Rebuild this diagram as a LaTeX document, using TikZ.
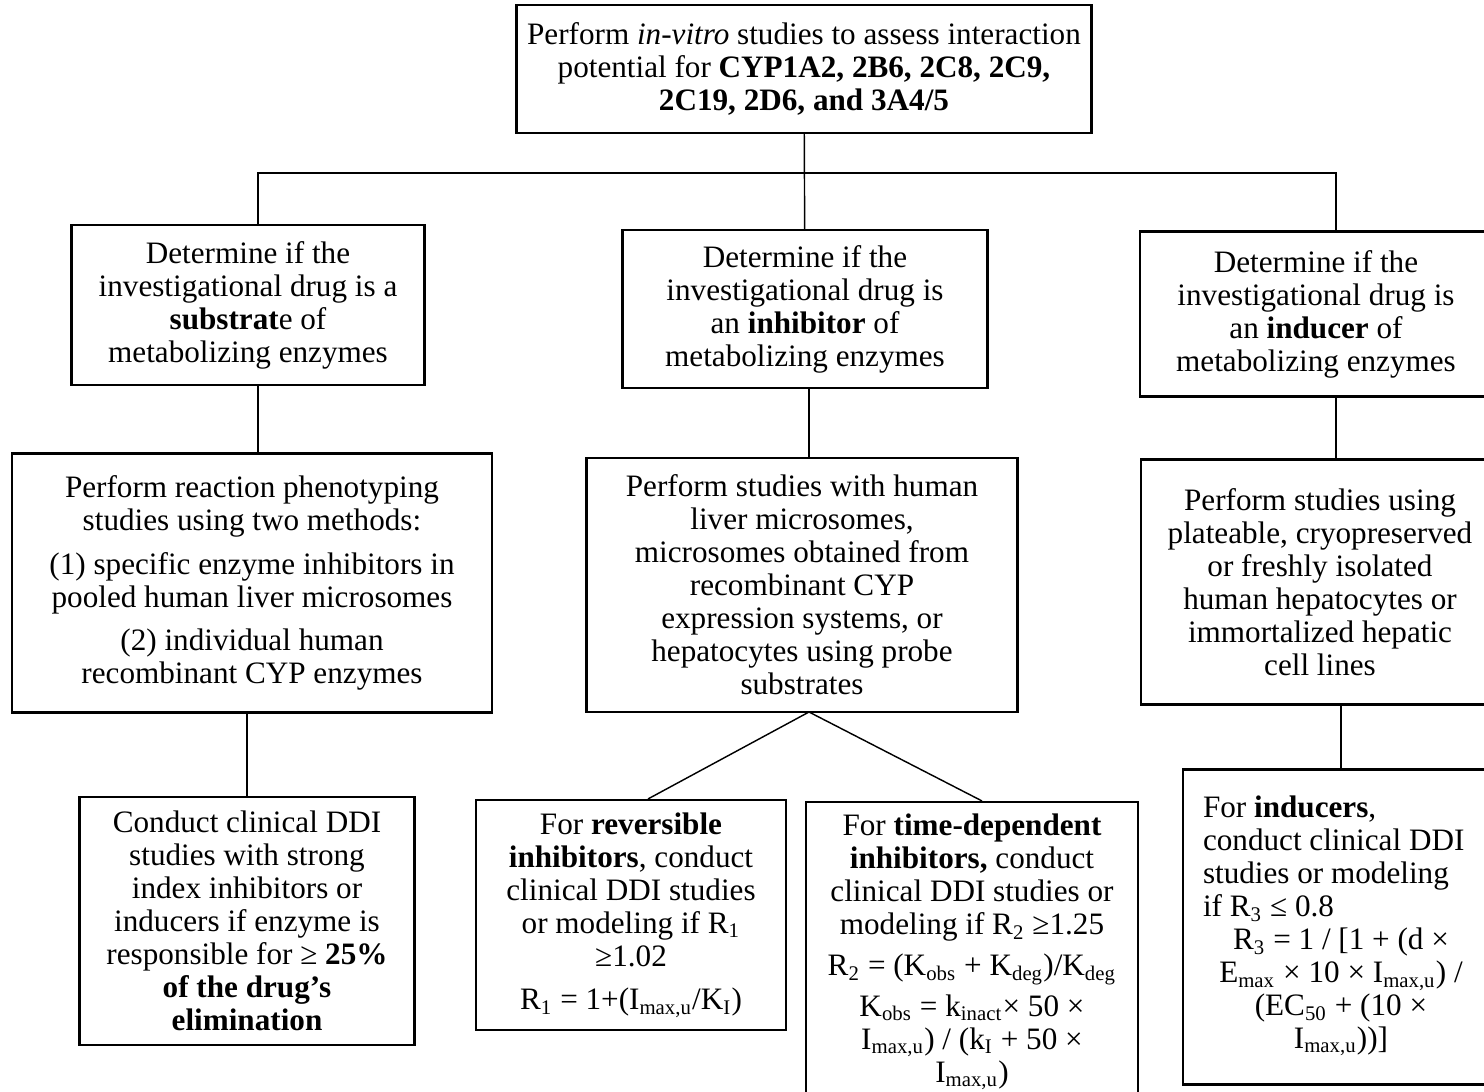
\documentclass[tikz,border=0pt]{standalone}
\usepackage{fontspec}
\setmainfont{Liberation Serif}
\newdimen\px \px=0.385pt

\begin{document}
\begin{tikzpicture}[x=0.385pt,y=-0.385pt,
	box/.style={draw,line width=0.8pt,align=center,inner sep=0pt,font=\fontsize{12}{12.7}\selectfont},
	link/.style={line width=0.55pt}]
	\useasboundingbox (0,0) rectangle (1484,1092);

	\node[box,minimum width=575\px,minimum height=128\px] (top) at (804,69) {Perform \textit{in-vitro} studies to assess interaction\\ potential for \textbf{CYP1A2, 2B6, 2C8, 2C9,}\\ \textbf{2C19, 2D6, and 3A4/5}};

	\node[box,minimum width=353\px,minimum height=160\px] (sub1) at (248,305) {Determine if the\\ investigational drug is a\\ \textbf{substrat}e of\\ metabolizing enzymes};
	\node[box,minimum width=365\px,minimum height=158\px] (inh1) at (805,309) {Determine if the\\ investigational drug is\\ an \textbf{inhibitor} of\\ metabolizing enzymes};
	\node[box,minimum width=352\px,minimum height=165\px] (ind1) at (1316,314) {Determine if the\\ investigational drug is\\ an \textbf{inducer} of\\ metabolizing enzymes};

	\node[box,minimum width=480\px,minimum height=259\px] (sub2) at (252,583) {Perform reaction phenotyping\\ studies using two methods:\\[4pt] (1) specific enzyme inhibitors in\\ pooled human liver microsomes\\[4pt] (2) individual human\\ recombinant CYP enzymes};
	\node[box,minimum width=431\px,minimum height=254\px] (inh2) at (802,585) {Perform studies with human\\ liver microsomes,\\ microsomes obtained from\\ recombinant CYP\\ expression systems, or\\ hepatocytes using probe\\ substrates};
	\node[box,minimum width=358\px,minimum height=245\px] (ind2) at (1320,582) {Perform studies using\\ plateable, cryopreserved\\ or freshly isolated\\ human hepatocytes or\\ immortalized hepatic\\ cell lines};

	\node[box,minimum width=335\px,minimum height=248\px] (sub3) at (247,921) {Conduct clinical DDI\\ studies with strong\\ index inhibitors or\\ inducers if enzyme is\\ responsible for ≥ \textbf{25\%}\\ \textbf{of the drug’s}\\ \textbf{elimination}};
	\node[box,minimum width=310\px,minimum height=230\px] (rev) at (631,915) {For \textbf{reversible}\\ \textbf{inhibitors}, conduct\\ clinical DDI studies\\ or modeling if R\textsubscript{1}\\ ≥1.02\\[4pt] R\textsubscript{1} = 1+(I\textsubscript{max,u}/K\textsubscript{I})};
	\node[box,minimum width=332\px,minimum height=300\px] (tdi) at (972,952) {For \textbf{time-dependent}\\ \textbf{inhibitors,} conduct\\ clinical DDI studies or\\ modeling if R\textsubscript{2} ≥1.25\\[3pt] R\textsubscript{2} = (K\textsubscript{obs} + K\textsubscript{deg})/K\textsubscript{deg}\\[3pt] K\textsubscript{obs} = k\textsubscript{inact}× 50 ×\\ I\textsubscript{max,u}) / (k\textsubscript{I} + 50 ×\\ I\textsubscript{max,u})};
	\node[box,align=flush left,text width=276\px,inner xsep=20\px,minimum height=315\px] (ind3) at (1341,927) {For \textbf{inducers},\\ conduct clinical DDI\\ studies or modeling\\ if R\textsubscript{3} ≤ 0.8\\ \hspace*{\fill}\begin{tabular}[t]{@{}c@{}}R\textsubscript{3} = 1 / [1 + (d ×\\ E\textsubscript{max} × 10 × I\textsubscript{max,u}) /\\ (EC\textsubscript{50} + (10 ×\\ I\textsubscript{max,u}))]\end{tabular}\hspace*{\fill}\hspace*{20\px}};

	\coordinate (busl) at (258,173);
	\coordinate (busr) at (1336,173);
	\coordinate (apex) at (809,712);

	\draw[link] (top) -- (inh1);
	\draw[link] (sub1.north -| busl) -- (busl) -- (busr) -- (ind1.north -| busr);
	\draw[link] (sub1.south -| busl) -- (sub2.north -| busl);
	\draw[link] (inh1.south -| apex) -- (inh2.north -| apex);
	\draw[link] (ind1.south -| busr) -- (ind2.north -| busr);
	\draw[link] (sub3.north |- sub2.south) -- (sub3.north);
	\draw[link] (apex) -- ([xshift=17\px]rev.north);
	\draw[link] (apex) -- ([xshift=10\px]tdi.north);
	\draw[link] (ind3.north |- ind2.south) -- (ind3.north);
\end{tikzpicture}
\end{document}
